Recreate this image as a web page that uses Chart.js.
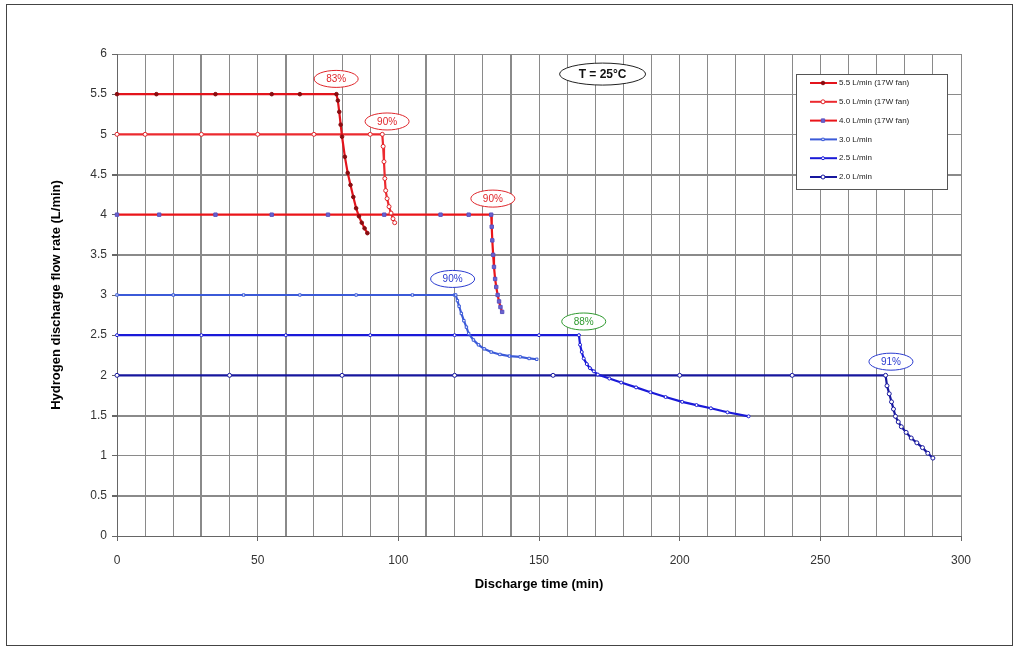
<!DOCTYPE html>
<html>
<head>
<meta charset="utf-8">
<script src="https://cdn.jsdelivr.net/npm/chart.js@4.4.0/dist/chart.umd.min.js"></script>
<style>
  html, body { margin: 0; padding: 0; background: #fff; }
</style>
</head>
<body>
<canvas id="myChart" width="1018" height="651"></canvas>
<script>
// series names, in legend order
var seriesNames = ['5.5 L/min (17W fan)', '5.0 L/min (17W fan)', '4.0 L/min (17W fan)', '3.0 L/min', '2.5 L/min', '2.0 L/min'];

// discharge time (min) and flow rate (L/min) for each series
var t55 = [0, 14, 35, 55, 65, 78, 78.5, 79, 79.5, 80, 81, 82, 83, 84, 85, 86, 87, 88, 89];
var q55 = [5.5, 5.5, 5.5, 5.5, 5.5, 5.5, 5.42, 5.28, 5.12, 4.97, 4.72, 4.52, 4.37, 4.22, 4.08, 3.98, 3.9, 3.83, 3.77];

var t50 = [0, 10, 30, 50, 70, 90, 94.3, 94.6, 94.9, 95.2, 95.5, 96, 96.7, 97.4, 98.1, 98.7];
var q50 = [5, 5, 5, 5, 5, 5, 5, 4.85, 4.66, 4.45, 4.3, 4.2, 4.1, 4.02, 3.95, 3.9];

var t40 = [0, 15, 35, 55, 75, 95, 115, 125, 133, 133.2, 133.4, 133.7, 134, 134.4, 134.8, 135.3, 135.8, 136.3, 136.9];
var q40 = [4, 4, 4, 4, 4, 4, 4, 4, 4, 3.85, 3.68, 3.5, 3.35, 3.2, 3.1, 3.0, 2.92, 2.85, 2.79];

var t30 = [0, 20, 45, 65, 85, 105, 120, 120.4, 121, 121.6, 122.4, 123.3, 124.2, 125, 126.7, 128.5, 130.5, 133, 136.1, 139.5, 143.3, 146.5, 149.2];
var q30 = [3, 3, 3, 3, 3, 3, 3, 3, 2.93, 2.86, 2.77, 2.68, 2.6, 2.52, 2.44, 2.38, 2.33, 2.29, 2.26, 2.24, 2.23, 2.21, 2.2];

var t25 = [0, 30, 60, 90, 120, 150, 164.2, 164.6, 165.2, 165.9, 167, 168.1, 169.5, 170.9, 175, 179.2, 184.5, 189.6, 195, 200.9, 206, 211.1, 217, 224.5];
var q25 = [2.5, 2.5, 2.5, 2.5, 2.5, 2.5, 2.5, 2.38, 2.29, 2.21, 2.14, 2.09, 2.05, 2.01, 1.96, 1.91, 1.85, 1.79, 1.73, 1.67, 1.63, 1.59, 1.54, 1.49];

var t20 = [0, 40, 80, 120, 155, 200, 240, 273.2, 273.7, 274.5, 275.3, 276, 276.7, 277.7, 278.8, 280.5, 282.3, 284.3, 286.3, 288.2, 290];
var q20 = [2, 2, 2, 2, 2, 2, 2, 2, 1.87, 1.77, 1.67, 1.58, 1.49, 1.42, 1.36, 1.29, 1.22, 1.16, 1.1, 1.03, 0.97];

// axis tick labels
var xTickLabels = [0, 50, 100, 150, 200, 250, 300];
var yTickLabels = [0, 0.5, 1, 1.5, 2, 2.5, 3, 3.5, 4, 4.5, 5, 5.5, 6];

// percent call-outs (anchored in data units)
var noteText = ['83%', '90%', '90%', '90%', '88%', '91%'];
var noteTime = [77.9, 96, 133.6, 119.3, 165.9, 275.1];
var noteRate = [5.69, 5.16, 4.2, 3.2, 2.67, 2.17];
var noteColor = ['#e0262b', '#e0262b', '#e0262b', '#2a3bd0', '#2f9a2f', '#2a3bd0'];

var tempText = 'T = 25°C';
var tempTime = 172.6;
var tempRate = 5.75;

function toPoints(ts, qs) {
    var pts = [];
    for (var i = 0; i < ts.length; i++) {
        pts.push({ x: ts[i], y: qs[i] });
    }
    return pts;
}

var FONT = '"Liberation Sans", Arial, sans-serif';

var decorPlugin = {
    id: 'decor',
    beforeDraw: function (chart) {
        var c = chart.ctx;
        c.save();
        c.fillStyle = '#fff';
        c.fillRect(0, 0, chart.width, chart.height);
        c.strokeStyle = '#444';
        c.lineWidth = 1;
        c.strokeRect(6.5, 4.5, 1006, 641);
        c.restore();
    },
    afterDatasetsDraw: function (chart) {
        var c = chart.ctx;
        var xs = chart.scales.x, ys = chart.scales.y;
        c.save();

        // percent ellipses
        for (var i = 0; i < noteText.length; i++) {
            var px = xs.getPixelForValue(noteTime[i]);
            var py = ys.getPixelForValue(noteRate[i]);
            c.beginPath();
            c.ellipse(px, py, 22, 8.5, 0, 0, Math.PI * 2);
            c.fillStyle = '#fff';
            c.fill();
            c.strokeStyle = noteColor[i];
            c.lineWidth = 1;
            c.stroke();
            c.fillStyle = noteColor[i];
            c.font = '10px ' + FONT;
            c.textAlign = 'center';
            c.textBaseline = 'middle';
            c.fillText(noteText[i], px, py + 0.5);
        }

        // temperature ellipse
        var tx = xs.getPixelForValue(tempTime);
        var ty = ys.getPixelForValue(tempRate);
        c.beginPath();
        c.ellipse(tx, ty, 43, 11, 0, 0, Math.PI * 2);
        c.fillStyle = '#fff';
        c.fill();
        c.strokeStyle = '#222';
        c.lineWidth = 1;
        c.stroke();
        c.fillStyle = '#111';
        c.font = 'bold 12px ' + FONT;
        c.textAlign = 'center';
        c.textBaseline = 'middle';
        c.fillText(tempText, tx, ty + 0.5);

        // legend box
        c.fillStyle = '#fff';
        c.fillRect(796, 74, 151, 115);
        c.strokeStyle = '#555';
        c.lineWidth = 1;
        c.strokeRect(796.5, 74.5, 151, 115);
        chart.data.datasets.forEach(function (ds, k) {
            var y = 83 + k * 18.8;
            c.strokeStyle = ds.borderColor;
            c.lineWidth = 2;
            c.beginPath();
            c.moveTo(810, y);
            c.lineTo(837, y);
            c.stroke();
            c.fillStyle = ds.pointBackgroundColor;
            c.strokeStyle = ds.pointBorderColor;
            c.lineWidth = 1;
            Chart.helpers.drawPoint(c, { pointStyle: ds.pointStyle, radius: ds.pointRadius, rotation: 0, borderWidth: 1 }, 823, y);
            c.fillStyle = '#222';
            c.font = '8px ' + FONT;
            c.textAlign = 'left';
            c.textBaseline = 'middle';
            c.fillText(ds.label, 839, y);
        });
        c.restore();
    }
};

function makeSet(k, ts, qs, line, style, radius, fill, edge) {
    return {
        label: seriesNames[k],
        data: toPoints(ts, qs),
        showLine: true,
        borderColor: line,
        borderWidth: 2.2,
        pointStyle: style,
        pointRadius: radius,
        pointBackgroundColor: fill,
        pointBorderColor: edge,
        pointBorderWidth: 1,
        tension: 0,
        clip: false
    };
}

var ctx = document.getElementById('myChart').getContext('2d');

var myChart = new Chart(ctx, {
    type: 'scatter',
    data: {
        datasets: [
            makeSet(0, t55, q55, '#e3141c', 'circle', 1.8, '#8a0c10', '#8a0c10'),
            makeSet(1, t50, q50, '#ec2a2f', 'circle', 2, '#ffffff', '#e0262b'),
            makeSet(2, t40, q40, '#ea1419', 'rect', 2.4, '#6a63cf', '#5a52c0'),
            makeSet(3, t30, q30, '#3b5ad8', 'rect', 1.7, '#ffffff', '#3b5ad8'),
            makeSet(4, t25, q25, '#1a1ad8', 'circle', 1.5, '#ffffff', '#1a1ad8'),
            makeSet(5, t20, q20, '#17179e', 'circle', 2, '#ffffff', '#17179e')
        ]
    },
    options: {
        responsive: false,
        animation: false,
        layout: {
            padding: { left: 49, right: 57, top: 54, bottom: 59 }
        },
        plugins: {
            legend: { display: false },
            tooltip: { enabled: false }
        },
        scales: {
            x: {
                type: 'linear',
                min: 0,
                max: 300,
                afterFit: function (scale) { scale.height = 56; },
                ticks: {
                    stepSize: 10,
                    autoSkip: false,
                    maxRotation: 0,
                    padding: 12,
                    color: '#333',
                    font: { family: FONT, size: 12 },
                    callback: function (v) {
                        return xTickLabels.indexOf(v) >= 0 ? String(v) : '';
                    }
                },
                grid: {
                    color: '#8a8a8a',
                    lineWidth: function (c) {
                        var v = c.tick ? c.tick.value : -1;
                        return (v === 30 || v === 60 || v === 110 || v === 140) ? 2 : 1;
                    },
                    tickLength: 5,
                    tickColor: function (c) {
                        var v = c.tick ? c.tick.value : -1;
                        return xTickLabels.indexOf(v) >= 0 ? '#666' : 'rgba(0,0,0,0)';
                    }
                },
                border: { color: '#666', width: 1 },
                title: {
                    display: true,
                    text: 'Discharge time (min)',
                    color: '#000',
                    padding: 0,
                    font: { family: FONT, size: 13, weight: 'bold' }
                }
            },
            y: {
                min: 0,
                max: 6,
                afterFit: function (scale) { scale.width = 68; },
                ticks: {
                    stepSize: 0.5,
                    padding: 5,
                    color: '#333',
                    font: { family: FONT, size: 12 },
                    callback: function (v) {
                        return yTickLabels.indexOf(v) >= 0 ? String(v) : '';
                    }
                },
                grid: {
                    color: '#8a8a8a',
                    lineWidth: function (c) {
                        var v = c.tick ? c.tick.value : -1;
                        return (v === 0.5 || v === 1.5 || v === 3.5 || v === 4.5) ? 2 : 1;
                    },
                    tickLength: 5,
                    tickColor: '#666'
                },
                border: { color: '#666', width: 1 },
                title: {
                    display: true,
                    text: 'Hydrogen discharge flow rate (L/min)',
                    color: '#000',
                    padding: 0,
                    font: { family: FONT, size: 13, weight: 'bold' }
                }
            }
        }
    },
    plugins: [decorPlugin]
});
</script>
</body>
</html>
